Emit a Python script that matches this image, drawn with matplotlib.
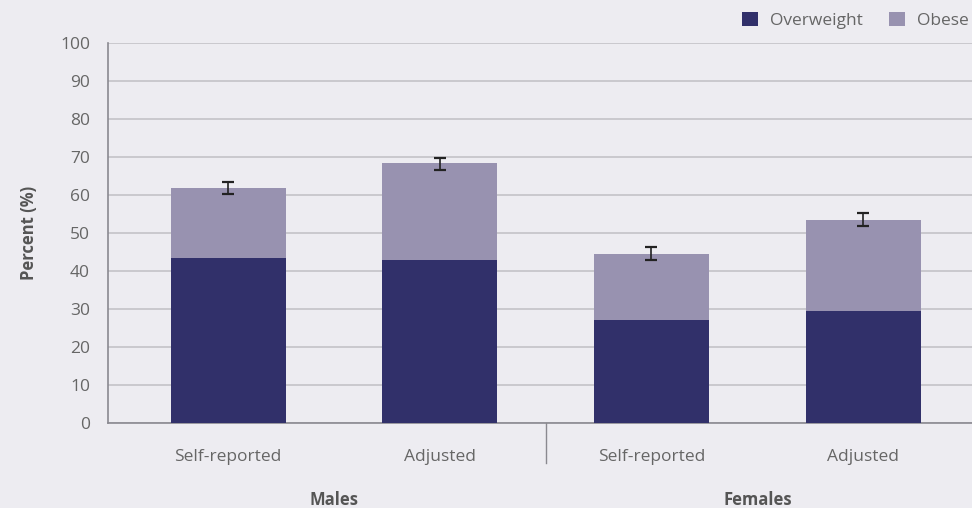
import numpy as np
import matplotlib.pyplot as plt

# data
categories = ["Self-reported", "Adjusted", "Self-reported", "Adjusted"]
groups = ["Males", "Females"]
overweight = [43.4, 42.9, 27.1, 29.5]
total = [61.8, 68.4, 44.5, 53.4]
err_low = [60.3, 66.6, 42.9, 51.8]
err_high = [63.5, 69.8, 46.3, 55.3]

obese = [t - o for t, o in zip(total, overweight)]

bg = "#EDECF1"
c_over = "#31306A"
c_obese = "#9892B0"
grey_txt = "#666666"

plt.rcParams['font.family'] = ['Open Sans', 'DejaVu Sans']

fig = plt.figure(figsize=(9.72, 5.08), dpi=100, facecolor=bg)
ax = fig.add_axes([108 / 972, 1 - 423 / 508, 1 - 108 / 972, 380 / 508])
ax.set_facecolor(bg)

x = np.arange(len(categories))
ax.bar(x, overweight, width=0.543, color=c_over, zorder=3, label="Overweight")
ax.bar(x, obese, width=0.543, bottom=overweight, color=c_obese, zorder=3, label="Obese")

lo = np.array(total) - np.array(err_low)
hi = np.array(err_high) - np.array(total)
ax.errorbar(x, total, yerr=[lo, hi], fmt="none", ecolor="#222222",
            elinewidth=1.2, capsize=4.5, capthick=1.6, zorder=4)

ax.set_ylim(0, 100)
ax.set_xlim(-0.567, 3.514)
ax.set_yticks(np.arange(0, 101, 10))
ax.yaxis.grid(True, color="#CAC9CE", linewidth=1.4, zorder=0)
ax.tick_params(axis="y", length=0, pad=13, labelsize=12.5, labelcolor=grey_txt)
ax.set_xticks([])

for s in ["top", "right"]:
    ax.spines[s].set_visible(False)
for s in ["left", "bottom"]:
    ax.spines[s].set_color("#8A8990")
    ax.spines[s].set_linewidth(1.2)

# category labels
for xi, lab in zip(x, categories):
    ax.text(xi, -9, lab, ha="center", va="center", fontsize=12.5, color=grey_txt)

# group labels and divider
ax.text(0.5, -20.3, groups[0], ha="center", va="center", fontsize=12,
        fontweight="bold", color="#555555")
ax.text(2.5, -20.3, groups[1], ha="center", va="center", fontsize=12,
        fontweight="bold", color="#555555")
ax.plot([1.5, 1.5], [0, -10.5], color="#8A8990", linewidth=1.0, clip_on=False)

ax.set_ylabel("Percent (%)", fontsize=12, fontweight="bold", color="#555555", labelpad=16)

leg = ax.legend(loc="center right", bbox_to_anchor=(1.0, 1.06), ncol=2, frameon=False,
                fontsize=12.5, handlelength=0.9, handleheight=0.9, columnspacing=1.5,
                handletextpad=0.7, borderaxespad=0, borderpad=0.2)
for t in leg.get_texts():
    t.set_color(grey_txt)

fig.savefig("out.png", dpi=100, facecolor=bg)
